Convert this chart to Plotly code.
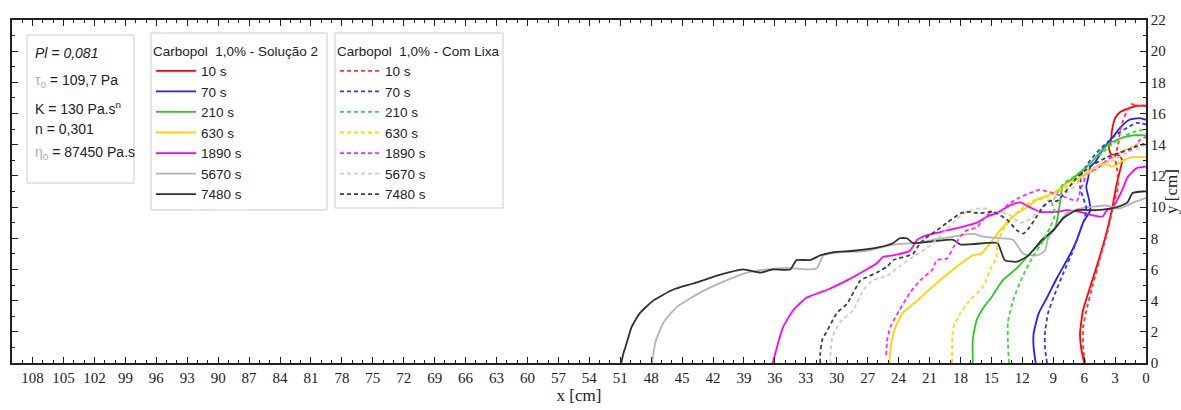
import plotly.graph_objects as go

# ---------------- data ----------------
times = ["10 s", "70 s", "210 s", "630 s", "1890 s", "5670 s", "7480 s"]
colors = ["#FF0000", "#2020FF", "#22CC22", "#FFD200", "#FF00FF", "#B4B4B4", "#303030"]
dash_colors = ["#FF3333", "#3333FF", "#33DD33", "#FFD800", "#FF22FF", "#CCCCCC", "#404040"]

# Carbopol 1,0% - Solução 2 (solid)
red_s_x = [6.0, 6.3, 6.4, 6.1, 5.4, 4.5, 3.7, 3.2, 2.9, 2.5, 2.3, 2.6, 3.4, 3.6, 3.4, 3.3, 3.0, 2.5, 1.8, 0.9, 0.0]
red_s_y = [0.0, 1.0, 1.9, 3.4, 4.9, 6.8, 8.7, 10.2, 11.3, 12.4, 13.0, 13.3, 13.4, 13.8, 14.3, 14.9, 15.7, 16.1, 16.3, 16.5, 16.5]

blue_s_x = [10.7, 10.9, 10.9, 10.4, 9.6, 8.6, 7.5, 6.7, 6.1, 5.4, 5.5, 5.8, 5.6, 5.4, 4.9, 4.2, 3.2, 2.5, 1.6, 0.6, 0.0]
blue_s_y = [0.0, 1.0, 1.9, 3.2, 4.2, 5.5, 6.8, 7.9, 9.0, 9.8, 10.4, 11.3, 11.9, 12.6, 12.9, 13.7, 14.5, 15.1, 15.6, 15.7, 15.6]

green_s_x = [16.8, 16.8, 16.4, 15.6, 15.0, 13.9, 12.5, 11.0, 9.6, 8.8, 8.5, 8.3, 8.1, 7.4, 6.4, 5.4, 4.5, 3.5, 2.5, 1.3, 0.0]
green_s_y = [0.0, 1.5, 2.8, 3.7, 4.2, 5.3, 6.1, 7.2, 8.1, 8.7, 9.6, 10.5, 11.3, 11.7, 12.2, 12.8, 13.5, 14.1, 14.4, 14.6, 14.6]

yellow_s_x = [24.9, 24.7, 24.3, 23.6, 22.2, 20.7, 18.7, 16.8, 16.0, 15.1, 14.4, 13.5, 12.5, 11.5, 10.5, 9.0, 7.7, 6.4, 5.1, 4.2, 3.2, 2.2, 1.3, 0.0]
yellow_s_y = [0.0, 1.3, 2.3, 3.2, 4.0, 4.9, 6.0, 6.9, 7.0, 7.7, 8.3, 9.0, 9.6, 10.0, 10.5, 10.9, 11.5, 11.9, 12.5, 12.8, 12.6, 13.0, 13.2, 13.2]

magenta_s_x = [36.2, 35.8, 35.2, 34.2, 32.9, 30.9, 29.0, 27.1, 26.1, 25.5, 24.5, 22.9, 22.2, 21.2, 19.3, 18.0, 16.4, 15.4, 14.5, 13.2, 12.2, 11.3, 10.3, 8.6, 7.7, 6.4, 5.4, 4.2, 3.8, 3.2, 2.3, 1.8, 0.9, 0.0]
magenta_s_y = [0.0, 1.0, 2.3, 3.4, 4.2, 4.7, 5.3, 6.0, 6.4, 6.8, 6.9, 7.2, 7.9, 8.2, 8.5, 8.7, 9.0, 9.4, 9.6, 10.1, 10.3, 10.0, 9.7, 9.7, 9.8, 9.7, 9.5, 9.4, 9.8, 10.0, 11.1, 11.9, 12.5, 12.6]

grey_s_x = [47.9, 47.6, 46.8, 45.5, 43.3, 40.7, 38.7, 36.8, 34.8, 32.9, 31.9, 31.3, 29.7, 27.1, 24.5, 22.2, 20.7, 18.7, 16.8, 15.8, 14.2, 12.9, 11.9, 10.6, 9.8, 9.5, 8.6, 7.7, 6.4, 3.8, 2.6, 1.2, 0.0]
grey_s_y = [0.0, 1.3, 2.6, 3.6, 4.5, 5.3, 5.8, 6.0, 6.1, 6.0, 6.1, 6.9, 7.1, 7.2, 7.6, 7.7, 7.9, 8.1, 8.3, 8.1, 8.0, 7.9, 7.0, 6.9, 7.2, 8.0, 8.8, 9.6, 9.9, 10.1, 9.9, 10.3, 10.6]

black_s_x = [50.9, 50.7, 50.5, 49.9, 49.1, 47.8, 45.9, 43.9, 41.6, 39.1, 37.4, 36.2, 34.5, 33.9, 32.6, 31.6, 30.4, 28.4, 26.1, 24.5, 23.9, 23.2, 22.6, 20.7, 18.7, 18.0, 15.4, 14.4, 13.7, 12.5, 11.4, 10.1, 9.0, 8.0, 6.7, 4.8, 3.5, 2.8, 1.8, 1.3, 0.3, 0.0]
black_s_y = [0.0, 0.6, 1.0, 2.3, 3.2, 4.0, 4.7, 5.1, 5.6, 6.0, 5.8, 6.0, 6.0, 6.6, 6.6, 6.9, 7.1, 7.2, 7.4, 7.7, 8.0, 8.0, 7.7, 7.8, 7.9, 7.6, 7.7, 7.7, 6.6, 6.5, 6.9, 7.9, 8.5, 9.3, 9.8, 9.8, 9.9, 10.0, 10.3, 10.9, 11.0, 11.0]

# Carbopol 1,0% - Com Lixa (dashed)
red_d_x = [5.9, 6.1, 6.1, 5.7, 5.2, 4.5, 3.7, 3.2, 2.9, 2.7, 2.8, 3.0, 2.7, 2.5, 2.2, 1.8, 1.4, 0.8, 0.0]
red_d_y = [0.0, 1.0, 2.3, 3.6, 4.9, 6.6, 8.5, 10.0, 10.8, 11.3, 12.4, 13.2, 14.0, 14.9, 15.6, 16.2, 16.6, 16.5, 16.5]

blue_d_x = [9.6, 9.8, 9.8, 9.5, 8.8, 8.0, 7.2, 6.6, 5.9, 5.8, 6.1, 6.4, 6.2, 5.4, 4.5, 3.5, 2.8, 1.8, 0.9, 0.0]
blue_d_y = [0.0, 1.0, 1.9, 3.2, 4.5, 5.8, 7.0, 8.1, 9.4, 10.0, 10.6, 11.3, 12.2, 13.0, 13.7, 14.3, 14.7, 15.1, 15.4, 15.3]

green_d_x = [13.3, 13.4, 13.4, 12.9, 12.0, 11.0, 10.1, 9.3, 8.8, 9.1, 8.6, 8.0, 7.1, 6.1, 5.1, 4.2, 3.2, 2.2, 1.3, 0.0]
green_d_y = [0.0, 1.5, 2.6, 4.0, 5.5, 6.8, 7.7, 8.7, 9.6, 10.2, 10.9, 11.5, 11.9, 12.4, 13.0, 13.5, 14.1, 14.5, 14.8, 15.0]

yellow_d_x = [18.8, 18.8, 18.7, 18.0, 17.1, 15.8, 15.1, 14.5, 14.4, 13.9, 12.9, 11.9, 11.0, 9.6, 8.3, 7.1, 5.7, 4.8, 3.5, 2.5, 1.6, 0.6, 0.0]
yellow_d_y = [0.0, 1.3, 2.3, 3.2, 4.0, 4.9, 6.0, 6.8, 7.7, 8.5, 9.4, 10.0, 10.4, 10.6, 11.1, 11.5, 12.1, 12.4, 13.0, 13.5, 13.8, 14.1, 14.0]

magenta_d_x = [25.2, 25.1, 24.8, 23.9, 22.9, 21.9, 20.7, 20.3, 19.3, 18.7, 18.0, 17.4, 16.4, 15.8, 15.4, 14.2, 13.3, 12.3, 11.3, 10.3, 9.0, 7.7, 6.7, 6.3, 5.7, 4.5, 3.8, 2.5, 1.3, 0.6, 0.0]
magenta_d_y = [0.5, 1.5, 2.3, 3.4, 4.5, 5.3, 6.0, 6.6, 6.7, 7.4, 8.1, 8.5, 8.7, 9.2, 9.5, 9.7, 10.2, 10.6, 10.9, 11.1, 10.9, 10.6, 10.4, 11.2, 12.1, 12.6, 13.0, 13.5, 13.7, 14.3, 14.5]

grey_d_x = [30.6, 30.6, 30.4, 29.7, 28.4, 27.4, 26.5, 25.1, 23.9, 22.6, 21.2, 20.0, 18.7, 17.7, 16.4, 15.4, 14.8, 13.5, 12.2, 11.3, 10.3, 9.6, 7.7, 6.4, 4.8, 3.2, 1.8, 0.6, 0.0]
grey_d_y = [0.0, 0.8, 1.7, 2.6, 3.4, 4.7, 5.3, 5.6, 6.2, 6.8, 7.4, 8.1, 9.0, 9.6, 9.9, 9.9, 9.6, 9.6, 9.0, 9.2, 9.8, 10.4, 10.9, 11.7, 12.6, 13.0, 13.5, 13.8, 14.0]

black_d_x = [31.6, 31.6, 31.4, 30.9, 30.0, 29.0, 27.7, 27.1, 26.1, 25.1, 24.5, 22.6, 21.9, 21.2, 20.3, 19.3, 18.0, 17.4, 16.1, 14.8, 13.5, 12.5, 11.9, 11.3, 10.6, 10.0, 9.3, 8.6, 6.7, 5.4, 3.8, 2.5, 1.3, 0.0]
black_d_y = [0.0, 0.6, 1.5, 2.1, 3.2, 3.8, 5.3, 5.5, 5.8, 6.2, 6.6, 7.0, 7.7, 8.1, 8.5, 9.0, 9.6, 9.7, 9.6, 9.7, 9.2, 8.5, 8.3, 8.7, 9.4, 10.0, 10.4, 10.4, 11.9, 12.6, 13.2, 13.5, 13.8, 14.1]

solid_series = [(red_s_x, red_s_y), (blue_s_x, blue_s_y), (green_s_x, green_s_y), (yellow_s_x, yellow_s_y),
                (magenta_s_x, magenta_s_y), (grey_s_x, grey_s_y), (black_s_x, black_s_y)]
dash_series = [(red_d_x, red_d_y), (blue_d_x, blue_d_y), (green_d_x, green_d_y), (yellow_d_x, yellow_d_y),
               (magenta_d_x, magenta_d_y), (grey_d_x, grey_d_y), (black_d_x, black_d_y)]

# ---------------- figure ----------------
fig = go.Figure()
for (xs, ys), name, c in zip(solid_series, times, colors):
    fig.add_trace(go.Scatter(x=xs, y=ys, mode="lines", name=name, legend="legend",
                             line=dict(color=c, width=1.8, shape="spline", smoothing=0.5)))
for (xs, ys), name, c in zip(dash_series, times, dash_colors):
    fig.add_trace(go.Scatter(x=xs, y=ys, mode="lines", name=name, legend="legend2",
                             line=dict(color=c, width=1.8, dash="4px,3px", shape="spline", smoothing=0.5)))

serif = "Liberation Serif, Times New Roman, serif"
sans = "Liberation Sans, Arial, sans-serif"

L, R, T, B = 12, 35, 20, 47
W, H = 1181, 410
pw, ph = W - L - R, H - T - B

def px2paper_x(px):
    return (px - L) / pw

def px2paper_y(py):
    return (H - B - py) / ph

fig.update_layout(
    width=W, height=H,
    margin=dict(l=L, r=R, t=T, b=B, autoexpand=False),
    paper_bgcolor="white", plot_bgcolor="white",
    font=dict(family=sans, size=14, color="#222"),
    xaxis=dict(
        range=[110, 0], tick0=0, dtick=3, ticks="inside", ticklen=6, tickwidth=1,
        tickcolor="#222", showline=True, linecolor="#222", linewidth=1.5, mirror="ticks",
        showgrid=False, zeroline=False,
        minor=dict(dtick=1, ticks="inside", ticklen=3, tickcolor="#222", showgrid=False),
        tickfont=dict(family=serif, size=15, color="#222"),
        title=dict(text="x [cm]", font=dict(family=serif, size=17, color="#222"), standoff=2),
    ),
    yaxis=dict(
        range=[0, 22], side="right", tick0=0, dtick=2, ticks="inside", ticklen=6, tickwidth=1,
        tickcolor="#222", showline=True, linecolor="#222", linewidth=1.5, mirror="ticks",
        showgrid=False, zeroline=False,
        minor=dict(dtick=1, ticks="inside", ticklen=3, tickcolor="#222", showgrid=False),
        tickfont=dict(family=serif, size=15, color="#222"),
        title=dict(text="y [cm]", font=dict(family=serif, size=17, color="#222"), standoff=3),
    ),
    legend=dict(
        x=px2paper_x(151), y=px2paper_y(38), xanchor="left", yanchor="top",
        bgcolor="rgba(0,0,0,0)", borderwidth=0, itemwidth=40,
        font=dict(family=sans, size=13.5, color="#222"),
        title=dict(text="Carbopol  1,0% - Solução 2", font=dict(family=sans, size=13.5, color="#222")),
        tracegroupgap=0,
    ),
    legend2=dict(
        x=px2paper_x(335), y=px2paper_y(38), xanchor="left", yanchor="top",
        bgcolor="rgba(0,0,0,0)", borderwidth=0, itemwidth=40,
        font=dict(family=sans, size=13.5, color="#222"),
        title=dict(text="Carbopol  1,0% - Com Lixa", font=dict(family=sans, size=13.5, color="#222")),
        tracegroupgap=0,
    ),
)

# boxes: parameters, legend 1, legend 2
for x0, x1, y0, y1 in [(27, 134, 35, 183), (151, 327, 33, 210), (335, 503, 33, 208)]:
    fig.add_shape(type="rect", xref="paper", yref="paper",
                  x0=px2paper_x(x0), x1=px2paper_x(x1), y0=px2paper_y(y1), y1=px2paper_y(y0),
                  line=dict(color="#cccccc", width=1), fillcolor="white", layer="above")

param_lines = [
    ("<i>Pl = 0,081</i>", 53),
    ("<span style='color:#b0b0b0'>τ<sub>0</sub></span> = 109,7 Pa", 81),
    ("K = 130 Pa.s<sup>n</sup>", 108),
    ("n = 0,301", 129),
    ("<span style='color:#b0b0b0'>η<sub>0</sub></span> = 87450 Pa.s", 153),
]
for txt, py in param_lines:
    fig.add_annotation(x=px2paper_x(33), y=px2paper_y(py), xref="paper", yref="paper",
                       text=txt, showarrow=False, xanchor="left", yanchor="middle",
                       font=dict(family=sans, size=14, color="#222"))

fig.write_html("out.html")
